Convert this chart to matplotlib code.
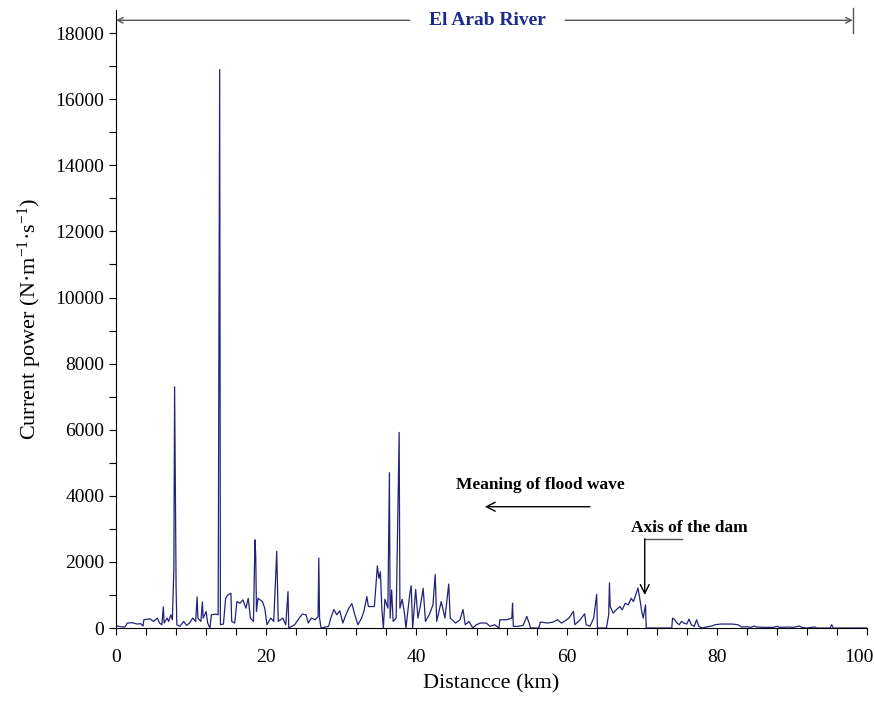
import matplotlib
matplotlib.use("Agg")
import matplotlib.pyplot as plt
from matplotlib.ticker import MultipleLocator, FuncFormatter

plt.rcParams['font.family'] = ['Liberation Serif', 'DejaVu Serif']
plt.rcParams['mathtext.fontset'] = 'custom'
plt.rcParams['mathtext.rm'] = 'Liberation Serif'
plt.rcParams['mathtext.it'] = 'Liberation Serif:italic'

distance_km = [0.0, 0.5, 1.2, 1.5, 2.2, 2.8, 3.3, 3.6, 3.7, 4.5, 5.0, 5.5, 5.8, 6.1, 6.3, 6.4,
               6.8, 7.0, 7.3, 7.5, 7.7, 7.8, 7.9, 8.0, 8.1, 8.5, 9.0, 9.4, 9.8, 10.2, 10.6, 10.8,
               10.9, 11.3, 11.5, 11.6, 12.0, 12.2, 12.5, 12.7, 13.3, 13.6, 13.8, 13.9, 14.3, 14.6,
               14.9, 15.3, 15.4, 15.8, 16.1, 16.5, 16.9, 17.3, 17.6, 17.9, 18.3, 18.5, 18.6, 18.7,
               18.9, 19.5, 19.8, 20.1, 20.6, 21.0, 21.4, 21.5, 21.6, 22.2, 22.6, 22.9, 23.0, 23.8,
               24.4, 24.8, 25.3, 25.6, 26.0, 26.5, 26.9, 27.0, 27.1, 27.3, 28.3, 28.6, 29.0, 29.4,
               29.8, 30.2, 30.6, 31.0, 31.4, 31.8, 32.2, 32.7, 33.0, 33.4, 33.6, 34.4, 34.8, 35.0,
               35.2, 35.4, 35.6, 35.8, 36.2, 36.4, 36.5, 36.7, 36.9, 37.3, 37.7, 37.8, 38.1, 38.4,
               38.6, 39.1, 39.3, 39.5, 39.9, 40.2, 40.5, 40.9, 41.2, 41.7, 42.2, 42.5, 42.7, 43.0,
               43.3, 43.8, 44.3, 44.5, 45.2, 45.8, 46.2, 46.5, 47.0, 47.5, 48.0, 48.5, 49.3, 49.8,
               50.4, 51.0, 51.1, 52.0, 52.7, 52.8, 52.9, 53.5, 54.2, 54.7, 55.0, 55.2, 56.3, 56.5,
               57.5, 58.2, 58.8, 59.3, 59.7, 60.3, 60.9, 61.1, 61.8, 62.4, 62.6, 63.1, 63.6, 64.0,
               64.1, 65.3, 65.6, 65.7, 65.8, 66.2, 66.6, 67.1, 67.4, 67.8, 68.2, 68.6, 68.9, 69.2,
               69.5, 69.7, 70.0, 70.2, 70.5, 70.6, 74.0, 74.1, 74.4, 74.7, 75.0, 75.3, 75.6, 76.0,
               76.3, 76.6, 77.0, 77.3, 77.6, 78.0, 78.8, 79.3, 79.8, 80.5, 82.0, 82.8, 83.3, 84.0,
               84.5, 85.0, 85.3, 86.3, 87.5, 88.0, 88.4, 89.5, 90.2, 91.0, 91.3, 92.0, 93.0, 93.3,
               95.1, 95.3, 95.5, 100.0]
current_power = [80, 40, 30, 150, 160, 120, 130, 60, 250, 280, 200, 300, 150, 100, 640, 150,
                 300, 200, 400, 250, 1760, 7300, 4450, 1200, 100, 50, 200, 80, 150, 300, 200, 940,
                 300, 200, 790, 300, 500, 150, 0, 400, 420, 400, 16900, 100, 120, 900,
                 1000, 1050, 200, 150, 800, 750, 850, 600, 900, 300, 200, 2670, 2200, 500,
                 900, 800, 600, 100, 300, 200, 2320, 1200, 200, 300, 100, 1100, 0, 100,
                 300, 420, 400, 150, 300, 250, 350, 2120, 300, 0, 50, 300, 560, 400,
                 520, 150, 400, 600, 740, 400, 100, 300, 500, 950, 650, 650, 1880, 1500,
                 1700, 560, 0, 870, 600, 4700, 300, 1150, 200, 300, 5920, 600, 870, 460,
                 0, 1000, 1280, 0, 1170, 300, 640, 1200, 200, 400, 700, 1620, 200, 500,
                 800, 300, 1330, 300, 150, 250, 560, 100, 200, 0, 100, 150, 150, 50,
                 100, 0, 250, 250, 300, 750, 50, 50, 80, 350, 150, 0, 0, 180,
                 150, 180, 250, 150, 200, 300, 500, 100, 250, 430, 100, 50, 300, 1020,
                 0, 0, 400, 1365, 650, 450, 550, 650, 550, 750, 700, 900, 800, 1000,
                 1210, 950, 500, 300, 700, 0, 0, 300, 250, 150, 100, 200, 150, 120,
                 270, 100, 50, 250, 50, 0, 40, 60, 100, 120, 120, 100, 30, 40,
                 20, 60, 30, 20, 20, 50, 20, 30, 20, 60, 20, 0, 30, 0,
                 0, 100, 0, 0]

x_max = 100

fig = plt.figure(figsize=(8.75, 7.02), dpi=100)
ax = fig.add_axes([0.1326, 0.1054, 0.8583, 0.8803])
ax.plot(distance_km, current_power, color='#23237a', linewidth=0.9)

ax.set_xlim(0, x_max)
ax.set_ylim(0, 18700)
ax.spines['top'].set_visible(False)
ax.spines['right'].set_visible(False)
ax.xaxis.set_major_locator(MultipleLocator(20))
ax.xaxis.set_minor_locator(MultipleLocator(4))
ax.yaxis.set_major_locator(MultipleLocator(2000))
ax.yaxis.set_minor_locator(MultipleLocator(1000))
ax.xaxis.set_major_formatter(FuncFormatter(lambda v, p: '' if v >= x_max else f'{v:.0f}'))
ax.tick_params(which='both', direction='out', length=5, width=0.8, labelsize=14)
ax.tick_params(axis='x', pad=10)

# last x tick label, nudged left so it stays inside the figure (as in the reference)
ax.annotate(f'{x_max}', xy=(x_max, 0), xycoords='data', xytext=(-6, -15),
            textcoords='offset points', ha='center', va='top', fontsize=14,
            annotation_clip=False)

ax.set_xlabel('Distancce (km)', fontsize=16, labelpad=6)
ax.set_ylabel('Current power (N·m$^{-1}$·s$^{-1}$)', fontsize=16, labelpad=8)

# top bracket
gray = '#555555'
ax.annotate('', xy=(0, 18390), xytext=(39.1, 18390),
            arrowprops=dict(arrowstyle='->', color=gray, lw=1.0, shrinkA=0, shrinkB=0),
            annotation_clip=False)
ax.annotate('', xy=(98.1, 18390), xytext=(59.8, 18390),
            arrowprops=dict(arrowstyle='->', color=gray, lw=1.0, shrinkA=0, shrinkB=0),
            annotation_clip=False)
ax.plot([98.1, 98.1], [18000, 18760], color=gray, lw=1.0, clip_on=False)
ax.text(49.5, 18390, 'El Arab River', color='#1c2a8c', fontsize=14, fontweight='bold',
        ha='center', va='center')

# flood wave annotation
ax.text(45.3, 4340, 'Meaning of flood wave', fontsize=12.5, fontweight='bold',
        ha='left', va='center')
ax.annotate('', xy=(49.1, 3670), xytext=(63.1, 3670),
            arrowprops=dict(arrowstyle='->', color='black', lw=1.0, shrinkA=0, shrinkB=0,
                            mutation_scale=16))

# dam axis annotation
ax.text(76.3, 3035, 'Axis of the dam', fontsize=12.5, fontweight='bold',
        ha='center', va='center')
ax.plot([75.3, 70.4], [2700, 2700], color=gray, lw=1.0)
ax.annotate('', xy=(70.4, 1000), xytext=(70.4, 2700),
            arrowprops=dict(arrowstyle='->', color='black', lw=1.0, shrinkA=0, shrinkB=0,
                            mutation_scale=16))

fig.savefig('out.png', dpi=100)
